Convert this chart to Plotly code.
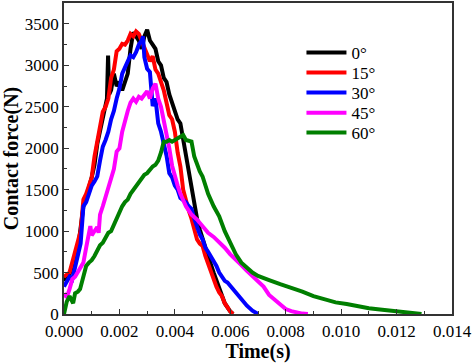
import plotly.graph_objects as go

# ---- data (time in s, contact force in N) ----
t_0 = [0, 0.0002, 0.0004, 0.0005, 0.0007, 0.0008, 0.001, 0.0011, 0.0012, 0.0014, 0.00155, 0.00159, 0.00163,
       0.0017, 0.0018, 0.0019, 0.002, 0.0021, 0.0022, 0.0023, 0.0024, 0.0025, 0.0026, 0.0027, 0.0028, 0.0029,
       0.003, 0.0031, 0.0032, 0.0033, 0.0034, 0.0035, 0.0036, 0.0037, 0.0038, 0.0039, 0.004, 0.0041, 0.0042,
       0.0043, 0.0044, 0.0045, 0.0046, 0.0047, 0.0048, 0.0049, 0.005, 0.0052, 0.0054, 0.0056, 0.0058, 0.006, 0.0061]
f_0 = [400, 480, 700, 780, 1300, 1400, 1650, 1800, 2050, 2400, 2600, 3120, 2650,
       2700, 2900, 2750, 2800, 2700, 2800, 2900, 3200, 3400, 3350, 3300, 3200, 3350,
       3430, 3300, 3250, 3200, 3050, 3000, 2850, 2800, 2650, 2550, 2450, 2350, 2300,
       2100, 1900, 1700, 1500, 1300, 1150, 1020, 900, 700, 500, 300, 130, 30, 0]

t_15 = [0, 0.0002, 0.0004, 0.0006, 0.0007, 0.0008, 0.0009, 0.001, 0.0011, 0.0012, 0.0013, 0.0014, 0.0015,
        0.0016, 0.0017, 0.0018, 0.0019, 0.002, 0.0021, 0.0022, 0.0023, 0.0024, 0.0025, 0.0026, 0.0027, 0.0028,
        0.0029, 0.003, 0.0031, 0.0032, 0.0033, 0.0034, 0.0035, 0.0036, 0.0037, 0.0038, 0.0039, 0.004, 0.0041,
        0.0042, 0.0043, 0.0044, 0.0045, 0.0046, 0.0047, 0.0048, 0.0049, 0.005, 0.0051, 0.0052, 0.0053, 0.0054,
        0.0055, 0.0056, 0.0057, 0.0058, 0.0059, 0.006, 0.0061]
f_15 = [450, 500, 750, 1000, 1380, 1450, 1550, 1650, 1900, 2080, 2300, 2440, 2500,
        2600, 2850, 2950, 3170, 3200, 3260, 3250, 3300, 3380, 3350, 3410, 3380, 3300,
        3200, 3150, 3050, 3110, 2950, 2900, 2800, 2700, 2550, 2400, 2350, 2200, 1950,
        1780, 1500, 1350, 1250, 1150, 1000, 900, 850, 820, 700, 600, 500, 430,
        330, 260, 215, 130, 70, 30, 0]

t_30 = [0, 0.0002, 0.0003, 0.0004, 0.0005, 0.0006, 0.0007, 0.0008, 0.0009, 0.001, 0.0011, 0.0012, 0.0013,
        0.0014, 0.0015, 0.0016, 0.0017, 0.0018, 0.0019, 0.002, 0.0021, 0.0022, 0.0023, 0.0024, 0.0025, 0.0026,
        0.0027, 0.0028, 0.00285, 0.0029, 0.003, 0.0031, 0.0032, 0.0033, 0.0034, 0.0035, 0.0036, 0.0037, 0.0038,
        0.0039, 0.004, 0.0041, 0.0042, 0.0043, 0.0044, 0.0045, 0.0046, 0.0047, 0.0048, 0.0049, 0.005, 0.0051,
        0.0052, 0.0053, 0.0054, 0.0055, 0.0056, 0.0057, 0.0058, 0.0059, 0.006, 0.0062, 0.0064, 0.0066, 0.0068, 0.007]
f_30 = [330, 450, 420, 570, 700, 850, 1300, 1350, 1450, 1550, 1600, 1660, 1850,
        2020, 2100, 2200, 2350, 2450, 2600, 2720, 2900, 2990, 3050, 3120, 3100, 3160,
        3250, 3300, 3350, 3100, 2960, 2920, 2510, 2600, 2300, 2200, 2050, 1910, 1700,
        1650, 1550, 1500, 1400, 1380, 1350, 1300, 1270, 1150, 1050, 960, 900, 800,
        750, 700, 630, 580, 500, 450, 400, 380, 340, 250, 170, 100, 40, 0]

t_45 = [0, 0.0001, 0.0002, 0.0003, 0.0004, 0.0005, 0.0006, 0.0007, 0.0008, 0.0009, 0.00095, 0.001, 0.0011,
        0.0012, 0.00125, 0.0013, 0.0014, 0.0015, 0.0016, 0.0017, 0.0018, 0.0019, 0.002, 0.0021, 0.0022, 0.0023,
        0.0024, 0.0025, 0.0026, 0.0027, 0.0028, 0.0029, 0.003, 0.0031, 0.0032, 0.0033, 0.0034, 0.0035, 0.0036,
        0.0037, 0.0038, 0.0039, 0.004, 0.0041, 0.0042, 0.0043, 0.0044, 0.0046, 0.0048, 0.005, 0.0052, 0.0054,
        0.0056, 0.0058, 0.006, 0.0062, 0.0064, 0.0066, 0.0068, 0.007, 0.0072, 0.0074, 0.0076, 0.0078, 0.008,
        0.0082, 0.0084, 0.0086, 0.0088]
f_45 = [250, 200, 300, 420, 450, 500, 560, 620, 800, 1000, 1060, 950, 1000,
        1050, 980, 1200, 1300, 1420, 1500, 1650, 1750, 1960, 2000, 2200, 2350, 2450,
        2550, 2600, 2560, 2620, 2600, 2650, 2690, 2600, 2720, 2780, 2600, 2500, 2350,
        2200, 2000, 1790, 1650, 1550, 1450, 1380, 1300, 1200, 1140, 1060, 980, 930,
        870, 800, 720, 660, 590, 520, 460, 400, 330, 230, 170, 110, 60,
        35, 15, 5, 0]

t_60 = [0, 0.0001, 0.0002, 0.00033, 0.0004, 0.0005, 0.00058, 0.0007, 0.0008, 0.0009, 0.001, 0.0011, 0.0012,
        0.0013, 0.0014, 0.0015, 0.0016, 0.0017, 0.0018, 0.0019, 0.002, 0.0021, 0.0022, 0.0023, 0.0024, 0.0025,
        0.0026, 0.0027, 0.0028, 0.0029, 0.003, 0.0031, 0.0032, 0.0033, 0.0034, 0.0035, 0.0036, 0.0037, 0.0038,
        0.0039, 0.004, 0.0041, 0.0042, 0.0043, 0.0044, 0.0045, 0.0046, 0.0047, 0.0048, 0.0049, 0.005, 0.0052,
        0.0054, 0.0056, 0.0058, 0.006, 0.0062, 0.0064, 0.0066, 0.0068, 0.007, 0.0072, 0.0074, 0.0078, 0.0082,
        0.0086, 0.009, 0.0094, 0.0098, 0.0102, 0.0106, 0.011, 0.0114, 0.0118, 0.0122, 0.0126, 0.0129]
f_60 = [0, 150, 215, 130, 250, 270, 300, 450, 580, 620, 650, 700, 780,
        830, 860, 920, 980, 1000, 1080, 1150, 1250, 1300, 1350, 1380, 1450, 1500,
        1550, 1600, 1650, 1680, 1700, 1750, 1780, 1800, 1850, 1950, 2080, 2080, 2100,
        2080, 2100, 2110, 2130, 2160, 2100, 2090, 2080, 1900, 1800, 1720, 1660, 1450,
        1300, 1180, 1000, 870, 720, 620, 560, 500, 460, 430, 410, 360, 320,
        270, 215, 180, 140, 120, 90, 70, 55, 40, 25, 10, 0]

series_names = ["0°", "15°", "30°", "45°", "60°"]
series_t = [t_0, t_15, t_30, t_45, t_60]
series_f = [f_0, f_15, f_30, f_45, f_60]
colors = ["#000000", "#ff0000", "#0000ff", "#ff00ff", "#007f00"]

x_ticks = [0.000, 0.002, 0.004, 0.006, 0.008, 0.010, 0.012, 0.014]
y_ticks = [0, 500, 1000, 1500, 2000, 2500, 3000, 3500]

serif = "Liberation Serif"

# one small legend per series so rows can sit 20 px apart like the reference
legend_rows_y = [0.839, 0.775, 0.711, 0.646, 0.582]
legend_keys = ["legend", "legend2", "legend3", "legend4", "legend5"]

fig = go.Figure()
for name, t, f, c, lk in zip(series_names, series_t, series_f, colors, legend_keys):
    fig.add_trace(go.Scatter(x=t, y=f, mode="lines", name=name, legend=lk,
                             line=dict(color=c, width=4)))

legend_layout = {}
for lk, ly in zip(legend_keys, legend_rows_y):
    legend_layout[lk] = dict(x=0.612, y=ly, xanchor="left", yanchor="middle",
                             itemwidth=40, font=dict(family=serif, size=17, color="#000000"),
                             bgcolor="rgba(0,0,0,0)", borderwidth=0)

axis_common = dict(showline=True, linecolor="#333333", linewidth=1.5, mirror=True,
                   ticks="inside", ticklen=5, tickwidth=1.2, tickcolor="#333333",
                   showgrid=False, zeroline=False, automargin=False,
                   tickfont=dict(family=serif, size=17, color="#000000"))

fig.update_layout(
    width=474, height=363,
    margin=dict(l=64, r=22, t=3, b=49),
    paper_bgcolor="white", plot_bgcolor="white",
    font=dict(family=serif, color="#000000"),
    showlegend=True,
    xaxis=dict(range=[0, 0.014], tickvals=x_ticks, tickformat=".3f", ticklabelstandoff=1,
               minor=dict(dtick=0.001, ticks="inside", ticklen=3, tickcolor="#333333"),
               title=dict(text="<b>Time(s)</b>", font=dict(family=serif, size=20), standoff=3),
               **axis_common),
    yaxis=dict(range=[0, 3753], tickvals=y_ticks,
               minor=dict(dtick=250, ticks="inside", ticklen=3, tickcolor="#333333"),
               title=dict(text="<b>Contact force(N)</b>", font=dict(family=serif, size=20), standoff=4),
               **axis_common),
    **legend_layout,
)

fig.write_html("out.html", config={"displayModeBar": False},
               post_script="document.body.style.margin='0px';document.body.style.padding='0px';")
